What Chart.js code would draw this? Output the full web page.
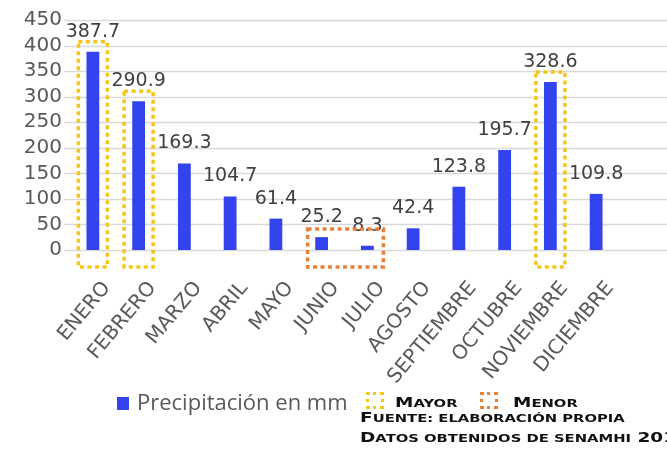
<!DOCTYPE html>
<html lang="es">
<head>
  <meta charset="UTF-8">
  <title>Precipitación mensual</title>
  <script src="https://cdn.jsdelivr.net/npm/chart.js"></script>
  <style>
    html, body { margin: 0; padding: 0; background: #fff; }
    #wrap { position: relative; width: 667px; height: 452px; overflow: hidden; }
    .leg { position: absolute; white-space: nowrap; }
    .txt { font-family: "Open Sans", sans-serif; font-size: 22px; line-height: 22px; color: #595959; }
    .sc { font-family: "DejaVu Sans", sans-serif; font-weight: bold; font-size: 14px; line-height: 14px; color: #111;
          transform: scaleX(1.32); transform-origin: left center; }
    .sc i { font-style: normal; font-size: 0.8em; text-transform: uppercase; }
    .box { position: absolute; width: 12px; height: 11px; border: 3.5px dotted; }
  </style>
</head>
<body>
<div id="wrap">
  <canvas id="rainChart" width="667" height="452"></canvas>

  <div class="leg" style="left:117px; top:397px; width:12px; height:13px; background:#3344ee;"></div>
  <div class="leg txt" style="left:137px; top:390px;">Precipitación en mm</div>
  <div class="box" style="left:366px; top:392px; border-color:#f5c518;"></div>
  <div class="leg sc" style="left:395px; top:395px;">M<i>ayor</i></div>
  <div class="box" style="left:480px; top:392px; border-color:#e8803a;"></div>
  <div class="leg sc" style="left:513px; top:395px;">M<i>enor</i></div>
  <div class="leg sc" style="left:360px; top:410px;">F<i>uente: elaboración propia</i></div>
  <div class="leg sc" style="left:360px; top:430px;">D<i>atos obtenidos de senamhi</i> 2019</div>
</div>

<script>
  const months = ['ENERO', 'FEBRERO', 'MARZO', 'ABRIL', 'MAYO', 'JUNIO', 'JULIO',
                  'AGOSTO', 'SEPTIEMBRE', 'OCTUBRE', 'NOVIEMBRE', 'DICIEMBRE'];
  const rain = [387.7, 290.9, 169.3, 104.7, 61.4, 25.2, 8.3, 42.4, 123.8, 195.7, 328.6, 109.8];
  const yTicks = [0, 50, 100, 150, 200, 250, 300, 350, 400, 450];
  const mayorMonths = ['ENERO', 'FEBRERO', 'NOVIEMBRE'];
  const menorMonths = ['JUNIO', 'JULIO'];

  const grey = '#595959';

  // horizontal gridlines, running past the plot to the right edge
  const gridPlugin = {
    id: 'gridExt',
    beforeDatasetsDraw(chart) {
      const { ctx, chartArea, scales } = chart;
      ctx.save();
      ctx.strokeStyle = '#d9d9d9';
      ctx.lineWidth = 1.5;
      yTicks.forEach(v => {
        const y = Math.round(scales.y.getPixelForValue(v)) + 0.5;
        ctx.beginPath();
        ctx.moveTo(chartArea.left - 6, y);
        ctx.lineTo(chart.width, y);
        ctx.stroke();
      });
      ctx.restore();
    }
  };

  // value labels above the bars + dotted boxes for the highest / lowest months
  const marksPlugin = {
    id: 'marks',
    afterDatasetsDraw(chart) {
      const { ctx, scales } = chart;
      const bars = chart.getDatasetMeta(0).data;
      const y0 = scales.y.getPixelForValue(0);
      ctx.save();

      ctx.font = '19px "DejaVu Sans"';
      ctx.fillStyle = '#404040';
      ctx.textAlign = 'center';
      ctx.textBaseline = 'alphabetic';
      bars.forEach((b, i) => ctx.fillText(rain[i].toFixed(1), b.x, b.y - 15));

      ctx.lineWidth = 3.5;
      ctx.setLineDash([4, 3.5]);

      ctx.strokeStyle = '#f5c518';
      mayorMonths.forEach(m => {
        const i = months.indexOf(m);
        const b = bars[i];
        ctx.strokeRect(b.x - 14.5, b.y - 10, 29, y0 + 17 - (b.y - 10));
      });

      ctx.strokeStyle = '#e8803a';
      const idx = menorMonths.map(m => months.indexOf(m));
      const left = bars[idx[0]].x - 14;
      const right = bars[idx[idx.length - 1]].x + 16;
      const top = Math.min(...idx.map(i => bars[i].y)) - 8;
      ctx.strokeRect(left, top, right - left, y0 + 17 - top);

      ctx.restore();
    }
  };

  new Chart(document.getElementById('rainChart'), {
    type: 'bar',
    data: {
      labels: months,
      datasets: [{
        label: 'Precipitación en mm',
        data: rain,
        backgroundColor: '#3344ee',
        barPercentage: 0.28,
        categoryPercentage: 1
      }]
    },
    options: {
      responsive: false,
      animation: false,
      layout: { padding: { top: 20, right: 48, left: 0, bottom: 0 } },
      plugins: { legend: { display: false }, tooltip: { enabled: false } },
      scales: {
        x: {
          grid: { display: false, drawTicks: false },
          border: { display: false },
          ticks: {
            color: grey,
            font: { family: 'DejaVu Sans', size: 20 },
            minRotation: 50,
            maxRotation: 50,
            padding: 27,
            labelOffset: 14,
            autoSkip: false
          },
          afterFit: s => { s.height = 202; }
        },
        y: {
          min: 0,
          max: 450,
          grid: { display: false, drawTicks: false },
          border: { display: false },
          ticks: {
            stepSize: 50,
            autoSkip: false,
            color: grey,
            font: { family: 'DejaVu Sans', size: 20 },
            padding: 8
          },
          afterFit: s => { s.width = 70; }
        }
      }
    },
    plugins: [gridPlugin, marksPlugin]
  });
</script>
</body>
</html>
